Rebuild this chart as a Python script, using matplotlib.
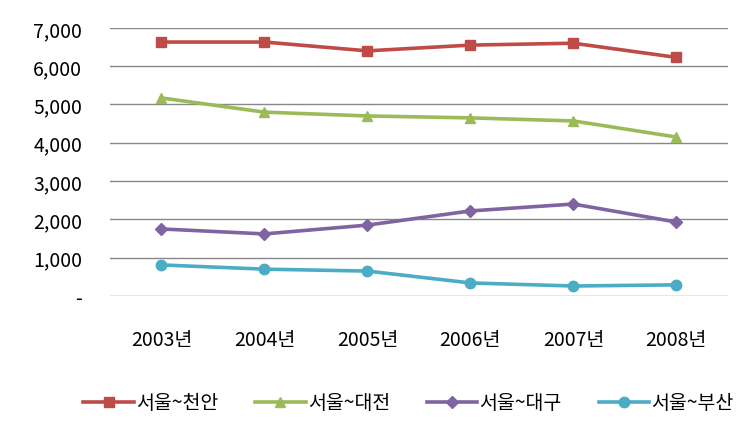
import matplotlib.pyplot as plt
from matplotlib.ticker import FuncFormatter

plt.rcParams['font.family'] = ['Noto Sans CJK KR', 'DejaVu Sans']

anni = ['2003년', '2004년', '2005년', '2006년', '2007년', '2008년']
serie = ['서울~천안', '서울~대전', '서울~대구', '서울~부산']
cheonan = [6630, 6630, 6400, 6550, 6600, 6230]
daejeon = [5170, 4800, 4700, 4650, 4570, 4150]
daegu = [1750, 1620, 1850, 2220, 2400, 1930]
busan = [810, 700, 650, 340, 260, 290]

colori = ['#BE4B48', '#9BBB59', '#8064A2', '#4BACC6']
marker = ['s', '^', 'D', 'o']
msize = [7.5, 7.5, 6, 7.5]

fig = plt.figure(figsize=(7.48, 4.31), dpi=100)
ax = fig.add_axes([0.147, 0.311, 0.826, 0.622])

x = range(len(anni))
for valori, nome, c, m, ms in zip([cheonan, daejeon, daegu, busan], serie, colori, marker, msize):
    ax.plot(x, valori, color=c, marker=m, markersize=ms, linewidth=2.6, label=nome)

ax.set_xlim(-0.5, len(anni) - 0.5)
ax.set_ylim(0, 7000)
ax.set_yticks(range(0, 7001, 1000))
ax.yaxis.set_major_formatter(FuncFormatter(lambda v, p: '-' if v == 0 else f'{int(v):,}'))
ax.set_xticks(list(x))
ax.set_xticklabels(anni)
ax.grid(axis='y', color='#888888', linewidth=1)
ax.set_axisbelow(True)
for s in ax.spines.values():
    s.set_visible(False)
ax.tick_params(length=0, labelsize=14, colors='black')
ax.tick_params(axis='y', pad=20)
ax.tick_params(axis='x', pad=24)

fig.legend(loc='center', bbox_to_anchor=(0.546, 0.063), ncol=4, frameon=False,
           fontsize=14, handlelength=2.6, columnspacing=1.9, handletextpad=0.1)

fig.savefig('out.png', dpi=100)
